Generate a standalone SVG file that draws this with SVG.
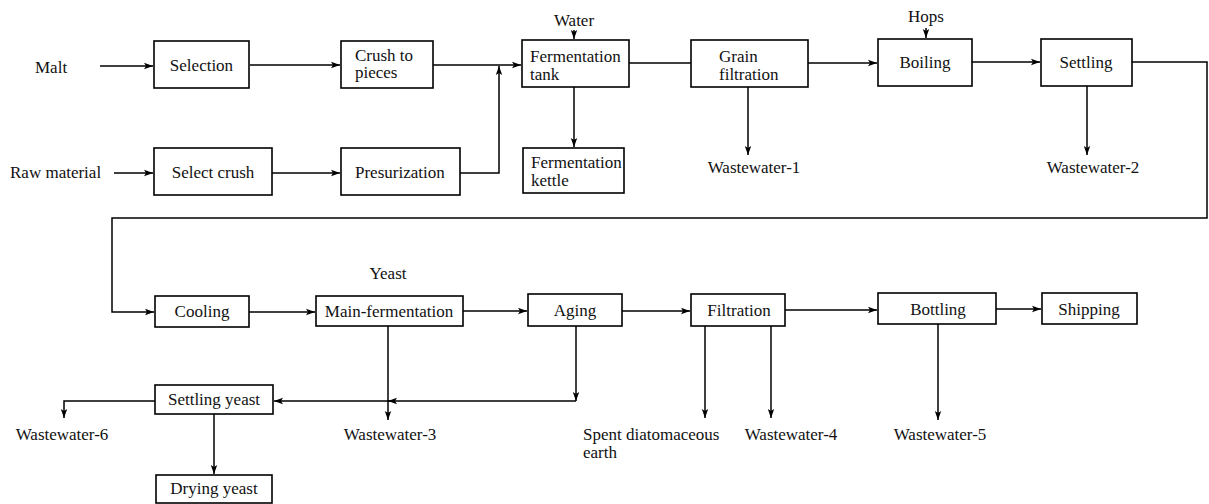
<svg xmlns="http://www.w3.org/2000/svg" width="1209" height="504" viewBox="0 0 1209 504">
<style>
.box{fill:#fff;stroke:#000;stroke-width:1.6}
text{font-family:'Liberation Serif','DejaVu Serif',serif;font-size:17px;fill:#111}
.m{text-anchor:middle}
.c{fill:none;stroke:#000;stroke-width:1.5}
</style>
<defs>
<marker id="a" markerUnits="userSpaceOnUse" markerWidth="10" markerHeight="8" refX="9" refY="4" orient="auto">
<path d="M0,0.8 L9,4 L0,7.2 L2,4 z" fill="#000"/>
</marker>
</defs>
<rect width="1209" height="504" fill="#fff"/>
<g id="connectors">
<path class="c" d="M100,66 H153" marker-end="url(#a)"/>
<path class="c" d="M250,65 H340" marker-end="url(#a)"/>
<path class="c" d="M433,65 H521" marker-end="url(#a)"/>
<path class="c" d="M114,173 H153" marker-end="url(#a)"/>
<path class="c" d="M272,173 H340" marker-end="url(#a)"/>
<path class="c" d="M460,173 H499 V66" marker-end="url(#a)"/>
<path class="c" d="M574,30 V39" marker-end="url(#a)"/>
<path class="c" d="M574,87 V147" marker-end="url(#a)"/>
<path class="c" d="M629,63 H691"/>
<path class="c" d="M748,87 V155" marker-end="url(#a)"/>
<path class="c" d="M808,63 H877" marker-end="url(#a)"/>
<path class="c" d="M926,28 V38" marker-end="url(#a)"/>
<path class="c" d="M972,62 H1040" marker-end="url(#a)"/>
<path class="c" d="M1087,86 V155" marker-end="url(#a)"/>
<path class="c" d="M1132,62 H1207 V218 H112 V312 H154" marker-end="url(#a)"/>
<path class="c" d="M249,312 H315" marker-end="url(#a)"/>
<path class="c" d="M388,326 V420" marker-end="url(#a)"/>
<path class="c" d="M463,311 H527" marker-end="url(#a)"/>
<path class="c" d="M622,311 H690" marker-end="url(#a)"/>
<path class="c" d="M576,326 V401" marker-end="url(#a)"/>
<path class="c" d="M576,401 H388" marker-end="url(#a)"/>
<path class="c" d="M392,401 H274" marker-end="url(#a)"/>
<path class="c" d="M705,326 V418" marker-end="url(#a)"/>
<path class="c" d="M771,326 V418" marker-end="url(#a)"/>
<path class="c" d="M785,310 H877" marker-end="url(#a)"/>
<path class="c" d="M996,309 H1041" marker-end="url(#a)"/>
<path class="c" d="M938,324 V420" marker-end="url(#a)"/>
<path class="c" d="M155,401 H64 V418" marker-end="url(#a)"/>
<path class="c" d="M214,414 V474" marker-end="url(#a)"/>
</g>
<g id="malt"><text x="35" y="73">Malt</text></g>
<g id="raw"><text x="10" y="178">Raw material</text></g>
<g id="water"><text class="m" x="574" y="26">Water</text></g>
<g id="hops"><text class="m" x="926" y="22">Hops</text></g>
<g id="selection"><rect class="box" x="154" y="41" width="95" height="47"/><text class="m" x="201.5" y="71">Selection</text></g>
<g id="crush"><rect class="box" x="341" y="41" width="92" height="47"/><text x="355" y="61">Crush to</text><text x="355" y="78">pieces</text></g>
<g id="fermtank"><rect class="box" x="522" y="40" width="107" height="47"/><text x="530" y="62">Fermentation</text><text x="530" y="80">tank</text></g>
<g id="grain"><rect class="box" x="691" y="40" width="117" height="47"/><text x="719" y="62">Grain</text><text x="719" y="80">filtration</text></g>
<g id="boiling"><rect class="box" x="878" y="39" width="94" height="47"/><text class="m" x="925" y="68">Boiling</text></g>
<g id="settling"><rect class="box" x="1041" y="39" width="91" height="47"/><text class="m" x="1086" y="68">Settling</text></g>
<g id="selectcrush"><rect class="box" x="154" y="148" width="118" height="47"/><text class="m" x="213" y="178">Select crush</text></g>
<g id="presur"><rect class="box" x="341" y="148" width="119" height="47"/><text x="355" y="178">Presurization</text></g>
<g id="kettle"><rect class="box" x="523" y="148" width="101" height="45"/><text x="531" y="168">Fermentation</text><text x="531" y="186">kettle</text></g>
<g id="ww1"><text class="m" x="754" y="173">Wastewater-1</text></g>
<g id="ww2"><text class="m" x="1093" y="173">Wastewater-2</text></g>
<g id="yeast"><text class="m" x="388" y="279">Yeast</text></g>
<g id="cooling"><rect class="box" x="155" y="296" width="94" height="31"/><text class="m" x="202" y="317">Cooling</text></g>
<g id="mainferm"><rect class="box" x="316" y="296" width="147" height="30"/><text class="m" x="389" y="317">Main-fermentation</text></g>
<g id="aging"><rect class="box" x="528" y="294" width="94" height="32"/><text class="m" x="575" y="316">Aging</text></g>
<g id="filtration"><rect class="box" x="691" y="294" width="94" height="32"/><text class="m" x="739" y="316">Filtration</text></g>
<g id="bottling"><rect class="box" x="878" y="293" width="118" height="31"/><text class="m" x="938" y="315">Bottling</text></g>
<g id="shipping"><rect class="box" x="1042" y="293" width="95" height="31"/><text class="m" x="1089" y="315">Shipping</text></g>
<g id="settlingyeast"><rect class="box" x="155" y="385" width="118" height="29"/><text class="m" x="214" y="405">Settling yeast</text></g>
<g id="dryingyeast"><rect class="box" x="156" y="475" width="116" height="28"/><text class="m" x="214" y="494">Drying yeast</text></g>
<g id="ww3"><text class="m" x="390" y="440">Wastewater-3</text></g>
<g id="spent"><text x="583" y="440">Spent diatomaceous</text><text x="583" y="458">earth</text></g>
<g id="ww4"><text class="m" x="791" y="440">Wastewater-4</text></g>
<g id="ww5"><text class="m" x="940" y="440">Wastewater-5</text></g>
<g id="ww6"><text class="m" x="62" y="440">Wastewater-6</text></g>
</svg>
